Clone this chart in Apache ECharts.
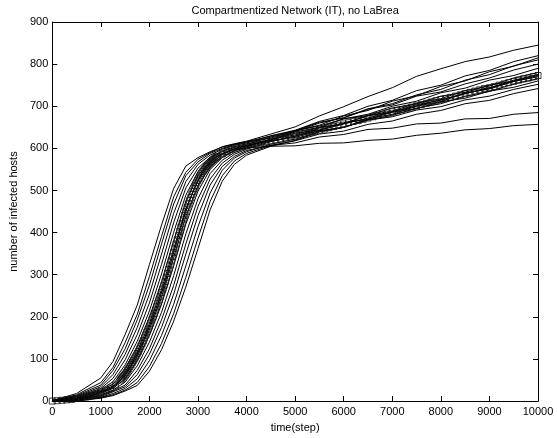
<!DOCTYPE html>
<html>
<head>
<meta charset="utf-8">
<script src="https://cdn.jsdelivr.net/npm/echarts@6/dist/echarts.min.js"></script>
<style>
html,body{margin:0;padding:0;background:#fff;}
#chart{width:557px;height:438px;}
</style>
</head>
<body>
<div id="chart"></div>
<script>
// ---- data ----
const titleText = "Compartmentized Network (IT), no LaBrea";
const xLabel = "time(step)";
const yLabel = "number of infected hosts";

const runSteps = [0,500,1000,1250,1500,1750,2000,2250,2500,2750,3000,3250,3500,3750,4000,4500,5000,5500,6000,6500,7000,7500,8000,8500,9000,9500,10000];

const run1  = [1,18,55,94,158,228,324,418,505,558,578,592,603,610,616,629,642,662,672,693,703,724,734,753,767,786,800];
const run2  = [0,15,44,80,139,206,296,391,485,543,574,590,604,611,617,634,651,677,699,723,744,771,789,806,817,833,845];
const run3  = [2,13,38,73,124,193,275,373,468,535,568,588,600,609,615,624,642,653,670,678,696,706,724,733,750,760,775];
const run4  = [0,11,34,63,111,175,254,349,446,521,562,584,598,607,613,630,643,664,678,700,714,737,750,772,785,806,820];
const run5  = [1,10,30,54,98,158,233,325,424,506,553,579,594,604,611,620,636,644,661,669,686,694,711,719,736,745,760];
const run6  = [0,8,27,46,86,142,214,302,401,489,545,575,592,602,609,627,640,660,673,694,706,727,740,762,775,796,810];
const run7  = [2,7,25,40,77,129,199,283,381,474,535,570,588,598,601,605,606,612,613,619,622,631,636,644,647,654,657];
const run8  = [0,6,23,36,68,117,184,265,361,457,524,563,585,598,606,620,639,650,670,681,700,712,732,743,762,773,790];
const run9  = [1,5,20,32,60,106,170,247,341,439,511,556,581,595,604,622,632,650,659,677,686,704,714,731,741,759,770];
const run10 = [0,4,18,30,53,96,156,230,321,420,498,550,578,594,604,620,642,655,677,690,712,725,747,760,782,795,815];
const run11 = [1,4,15,26,45,84,140,211,298,397,480,540,572,590,601,618,626,642,650,667,675,691,699,715,724,740,752];
const run12 = [0,3,13,24,38,73,124,193,275,373,462,527,565,586,598,616,629,648,659,678,689,707,718,737,748,767,780];
const run13 = [1,2,11,22,34,63,111,175,254,349,440,513,557,581,595,607,613,627,633,645,648,658,660,670,671,681,685];
const run14 = [0,2,9,18,30,53,96,156,230,321,414,494,548,577,592,610,622,640,650,668,678,696,706,724,735,753,765];
const run15 = [0,1,8,15,26,44,82,137,208,294,387,474,535,570,588,607,618,634,641,657,665,681,690,706,714,730,742];
const run16 = [0,0,7,13,24,37,71,122,190,271,362,454,522,562,584,605,619,639,650,670,681,700,711,731,742,762,775];

const meanSteps = [0,100,200,300,400,500,600,700,800,900,1000,1100,1200,1300,
1400,1425,1450,1475,1500,1525,1550,1575,1600,1625,1650,1675,1700,1725,1750,1775,1800,1825,1850,1875,1900,1925,1950,1975,
2000,2025,2050,2075,2100,2125,2150,2175,2200,2225,2250,2275,2300,2325,2350,2375,2400,2425,2450,2475,2500,2525,2550,2575,
2600,2625,2650,2675,2700,2725,2750,2775,2800,2825,2850,2875,2900,2925,2950,2975,3000,3025,3050,3075,3100,3125,3150,3175,
3200,3225,3250,3275,3300,3325,3350,3375,3400,
3500,3600,3700,3800,3900,4000,4100,4200,4300,4400,4500,4600,4700,4800,4900,5000,5100,5200,5300,5400,5500,5600,5700,5800,5900,
6000,6100,6200,6300,6400,6500,6600,6700,6800,6900,7000,7100,7200,7300,7400,7500,7600,7700,7800,7900,
8000,8100,8200,8300,8400,8500,8600,8700,8800,8900,9000,9100,9200,9300,9400,9500,9600,9700,9800,9900,10000];
const meanValues = [0,1,2,3,4,6,8,10,13,17,22,26,31,38,
50,53,57,60,64,68,73,77,82,87,92,97,102,107,113,118,124,130,137,143,150,157,164,171,
178,185,193,200,208,216,224,232,240,249,258,266,275,284,294,303,313,323,333,343,353,363,373,383,
393,403,413,422,432,441,450,459,468,476,483,491,498,505,511,518,524,529,535,540,545,549,553,557,
560,563,566,569,572,574,577,579,581,
587,592,597,601,604,607,610,612,614,616,618,620,622,625,627,629,632,635,638,640,643,646,649,652,655,
658,661,664,666,669,672,675,678,681,684,687,690,692,695,698,701,704,707,710,713,
716,718,721,724,727,730,733,736,739,742,744,747,750,753,756,759,762,765,767,770,773];

const xTicks = {min:0, max:10000, interval:1000};
const yTicks = {min:0, max:900, interval:100};

// ---- chart ----
const runs = [run1,run2,run3,run4,run5,run6,run7,run8,run9,run10,run11,run12,run13,run14,run15,run16];
const font = 'Liberation Sans, Arial, Helvetica, sans-serif';
const zip = (xs, ys) => xs.map((x, i) => [x, ys[i]]);

const series = runs.map(r => ({
  type: 'line',
  data: zip(runSteps, r),
  showSymbol: false,
  smooth: false,
  lineStyle: {color: '#000', width: 1},
  silent: true,
  z: 2
}));
series.push({
  type: 'line',
  data: zip(meanSteps, meanValues),
  symbol: 'rect',
  symbolSize: 6,
  showSymbol: true,
  showAllSymbol: true,
  lineStyle: {color: '#000', width: 1.2},
  itemStyle: {color: 'rgba(0,0,0,0)', borderColor: '#111', borderWidth: 0.8},
  silent: true,
  z: 3
});

const axisLine = {show: true, onZero: false, lineStyle: {color: '#000', width: 1}};
const tick = {show: true, inside: true, length: 5, lineStyle: {color: '#000', width: 1}};
const lbl = {color: '#000', fontSize: 11, fontFamily: font};
const plain = v => String(v);

const chart = echarts.init(document.getElementById('chart'), null, {renderer: 'canvas'});
chart.setOption({
  animation: false,
  backgroundColor: '#fff',
  grid: {left: 47, right: 19, top: 21, bottom: 32, containLabel: false},
  xAxis: [
    {type: 'value', position: 'bottom', min: xTicks.min, max: xTicks.max, interval: xTicks.interval,
     axisLine, axisTick: tick, splitLine: {show: false},
     axisLabel: Object.assign({margin: 5, formatter: plain}, lbl),
     name: xLabel, nameLocation: 'middle', nameGap: 18, nameTextStyle: lbl},
    {type: 'value', position: 'top', min: xTicks.min, max: xTicks.max, interval: xTicks.interval,
     axisLine, axisTick: tick, splitLine: {show: false}, axisLabel: {show: false},
     name: titleText, nameLocation: 'middle', nameGap: 6, nameTextStyle: lbl}
  ],
  yAxis: [
    {type: 'value', position: 'left', min: yTicks.min, max: yTicks.max, interval: yTicks.interval,
     axisLine, axisTick: tick, splitLine: {show: false},
     axisLabel: Object.assign({margin: 4, formatter: plain}, lbl),
     name: yLabel, nameLocation: 'middle', nameGap: 28, nameTextStyle: lbl},
    {type: 'value', position: 'right', min: yTicks.min, max: yTicks.max, interval: yTicks.interval,
     axisLine, axisTick: tick, splitLine: {show: false}, axisLabel: {show: false}}
  ],
  series
});
</script>
</body>
</html>
